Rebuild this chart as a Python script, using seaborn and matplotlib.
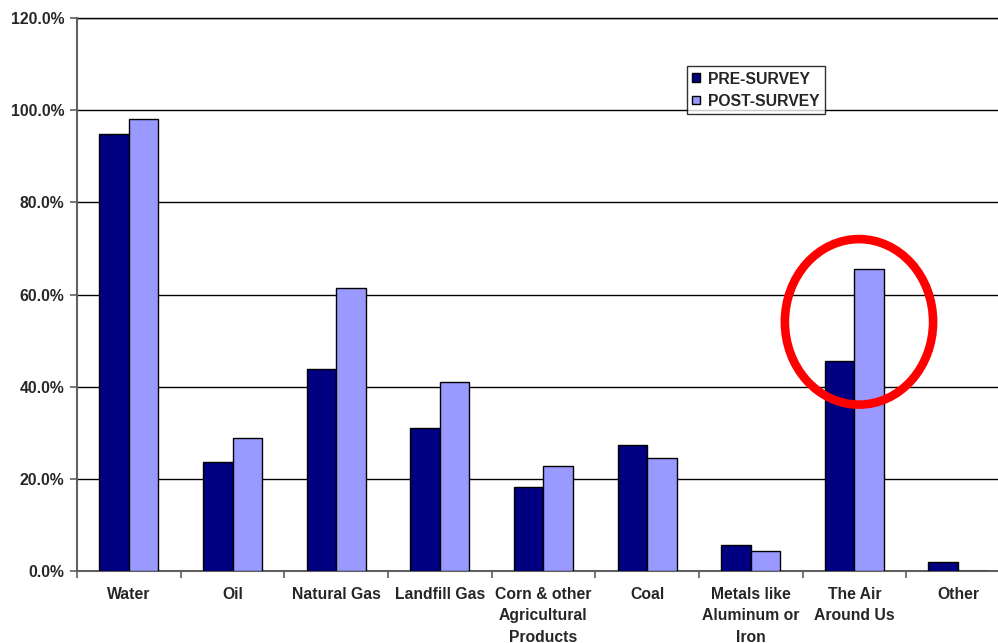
import matplotlib
matplotlib.use("Agg")
import matplotlib.pyplot as plt
from matplotlib.patches import Ellipse
from matplotlib.ticker import PercentFormatter, FixedLocator
import numpy as np
import pandas as pd
import seaborn as sns

categories = ["Water", "Oil", "Natural Gas", "Landfill Gas",
              "Corn & other\nAgricultural\nProducts", "Coal",
              "Metals like\nAluminum or\nIron", "The Air\nAround Us", "Other"]
pre_survey = [94.8, 23.7, 43.8, 31.0, 18.2, 27.3, 5.6, 45.6, 2.0]
post_survey = [98.1, 28.9, 61.4, 41.0, 22.8, 24.5, 4.3, 65.5, 0.0]
series = ["PRE-SURVEY", "POST-SURVEY"]
y_ticks = [0, 20, 40, 60, 80, 100, 120]

df = pd.DataFrame({
    "category": categories * 2,
    "value": pre_survey + post_survey,
    "survey": [series[0]] * len(categories) + [series[1]] * len(categories),
})

sns.set_theme(style="white")
plt.rcParams["font.family"] = ["Liberation Sans", "DejaVu Sans"]
plt.rcParams["font.weight"] = "bold"

fig = plt.figure(figsize=(9.98, 6.43), dpi=100)
ax = fig.add_axes([0.0772, 0.1115, 0.9346, 0.8605])

palette = {series[0]: "#000080", series[1]: "#9999FF"}
sns.barplot(data=df, x="category", y="value", hue="survey", order=categories,
            hue_order=series, palette=palette, width=0.57, gap=0,
            edgecolor="black", linewidth=1.0, saturation=1, ax=ax, zorder=3)

ax.set_xlim(-0.5, len(categories) - 0.5)
ax.set_ylim(0, 120)
ax.set_yticks(y_ticks)
ax.yaxis.set_major_formatter(PercentFormatter(decimals=1))
ax.yaxis.grid(True, color="black", linewidth=1.0, zorder=0)
ax.set_axisbelow(True)

ax.set_xticks(range(len(categories)))
ax.set_xticklabels(categories, fontsize=11.3, fontweight="bold", linespacing=1.55)
ax.xaxis.set_minor_locator(FixedLocator(np.arange(-0.5, len(categories), 1.0)))
ax.tick_params(axis="x", which="major", length=0, pad=11)
ax.tick_params(axis="x", which="minor", length=5, width=1.2, color="#606060",
               direction="out", bottom=True)
ax.tick_params(axis="y", length=5, width=1.2, color="#606060", direction="out",
               left=True, labelsize=11.3, pad=4)
for lab in ax.get_yticklabels():
    lab.set_fontweight("bold")

for s in ["top", "right"]:
    ax.spines[s].set_visible(False)
for s in ["left", "bottom"]:
    ax.spines[s].set_color("#606060")
    ax.spines[s].set_linewidth(1.5)
ax.set_xlabel("")
ax.set_ylabel("")

# top gridline at 120% drawn unclipped
ax.axhline(120, color="black", linewidth=1.0, clip_on=False, zorder=0)

leg = ax.legend(loc="upper left", bbox_to_anchor=(0.6537, 0.9132),
                frameon=True, fancybox=False, handlelength=0.5,
                handleheight=0.5, handletextpad=0.5, borderpad=0.35,
                labelspacing=0.45, borderaxespad=0, title=None,
                prop={"size": 11.3, "weight": "bold"})
leg.get_frame().set_edgecolor("black")
leg.get_frame().set_linewidth(1.0)
for h in leg.legend_handles:
    h.set_edgecolor("black")
    h.set_linewidth(1.0)

# highlight ring around "The Air Around Us"
air_idx = categories.index("The Air\nAround Us")
ax.add_patch(Ellipse((air_idx + 0.045, 54.1), width=1.43, height=35.9,
                     fill=False, edgecolor="#FF0000", linewidth=6.2,
                     zorder=5, clip_on=False))

fig.savefig("out.png", dpi=100)
